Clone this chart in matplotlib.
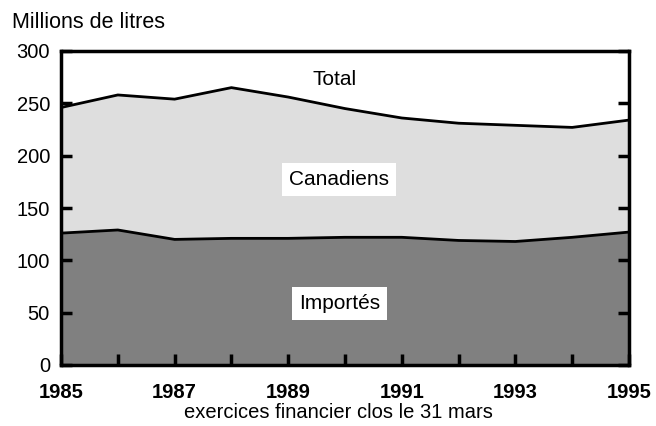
import matplotlib
matplotlib.use("Agg")
import matplotlib.pyplot as plt

plt.rcParams['font.family'] = ['Liberation Sans', 'DejaVu Sans']

years = [1985, 1986, 1987, 1988, 1989, 1990, 1991, 1992, 1993, 1994, 1995]
total = [246, 258, 254, 265, 256, 245, 236, 231, 229, 227, 234]
importes = [126, 129, 120, 121, 121, 122, 122, 119, 118, 122, 127]
xtick_labels = ['1985', '1987', '1989', '1991', '1993', '1995']

fig = plt.figure(figsize=(6.56, 4.26), dpi=100)
ax = fig.add_axes([61/656, 1-365/426, (629-61)/656, (365-51)/426])

ax.fill_between(years, 0, total, color='#dedede', lw=0)
ax.fill_between(years, 0, importes, color='#808080', lw=0)
ax.plot(years, total, color='black', lw=2)
ax.plot(years, importes, color='black', lw=2)

ax.set_xlim(1985, 1995)
ax.set_ylim(0, 300)
ax.set_yticks(range(0, 301, 50))
ax.set_xticks(years)
ax.set_xticklabels([str(y) if str(y) in xtick_labels else '' for y in years],
                   fontweight='bold', fontsize=14.5)
ax.tick_params(axis='y', labelsize=14.5, direction='in', length=8, width=2.5,
               right=True, pad=8)
ax.tick_params(axis='x', direction='in', length=8, width=2.5, pad=13)
for s in ax.spines.values():
    s.set_linewidth(2.5)

ax.text(1989.82, 273, 'Total', fontsize=15, ha='center', va='center')
ax.text(1989.9, 177, 'Canadiens', fontsize=15, ha='center', va='center',
        bbox=dict(facecolor='white', edgecolor='none', pad=5))
ax.text(1989.9, 59, 'Importés', fontsize=15, ha='center', va='center',
        bbox=dict(facecolor='white', edgecolor='none', pad=5))

fig.text(12/656, 1-22/426, 'Millions de litres', fontsize=15.5, ha='left', va='center')
fig.text(338/656, 1-413/426, 'exercices financier clos le 31 mars', fontsize=14.5,
         ha='center', va='center')

fig.savefig('out.png', dpi=100)
